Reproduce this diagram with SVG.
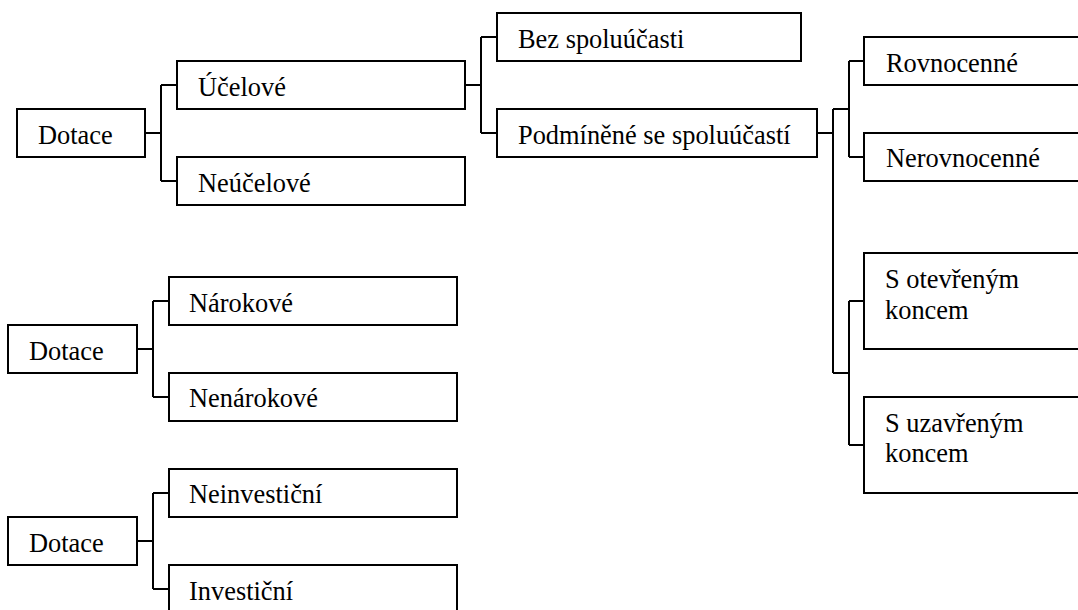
<svg xmlns="http://www.w3.org/2000/svg" width="1078" height="610" viewBox="0 0 1078 610">
<style>
.box{fill:#fff;stroke:#000;stroke-width:2}
.lbl{font-family:"Liberation Serif","Times New Roman",serif;font-size:26.4px;fill:#000}
.con{fill:none;stroke:#000;stroke-width:2}
</style>
<rect width="1078" height="610" fill="#fff"/>
<g id="connectors" class="con">
<path d="M145,133H161M161,85V181M161,85H177M161,181H177"/>
<path d="M465,85H481M481,37V133M481,37H497M481,133H497"/>
<path d="M817,133H833M833,109V373M833,109H849M849,61V157M849,61H864M849,157H864M833,373H849M849,301V445M849,301H864M849,445H864"/>
<path d="M137,349H153M153,301V397M153,301H169M153,397H169"/>
<path d="M137,541H153M153,493V589M153,493H169M153,589H169"/>
</g>
<g id="dotace1"><rect class="box" x="17" y="109" width="128" height="48"/><text class="lbl" x="38" y="144">Dotace</text></g>
<g id="ucelove"><rect class="box" x="177" y="61" width="288" height="48"/><text class="lbl" x="198" y="96">Účelové</text></g>
<g id="neucelove"><rect class="box" x="177" y="157" width="288" height="48"/><text class="lbl" x="198" y="192">Neúčelové</text></g>
<g id="bez"><rect class="box" x="497" y="13" width="304" height="48"/><text class="lbl" x="518" y="48">Bez spoluúčasti</text></g>
<g id="podminene"><rect class="box" x="497" y="109" width="320" height="48"/><text class="lbl" x="518" y="144">Podmíněné se spoluúčastí</text></g>
<g id="rovnocenne"><rect class="box" x="864" y="37" width="230" height="48"/><text class="lbl" x="886" y="72">Rovnocenné</text></g>
<g id="nerovnocenne"><rect class="box" x="864" y="133" width="230" height="48"/><text class="lbl" x="886" y="167">Nerovnocenné</text></g>
<g id="otevreny"><rect class="box" x="864" y="253" width="230" height="96"/><text class="lbl" x="885" y="288">S otevřeným</text><text class="lbl" x="885" y="319">koncem</text></g>
<g id="uzavreny"><rect class="box" x="864" y="397" width="230" height="96"/><text class="lbl" x="885" y="432">S uzavřeným</text><text class="lbl" x="885" y="462">koncem</text></g>
<g id="dotace2"><rect class="box" x="8" y="325" width="129" height="48"/><text class="lbl" x="29" y="360">Dotace</text></g>
<g id="narokove"><rect class="box" x="169" y="277" width="288" height="48"/><text class="lbl" x="189" y="312">Nárokové</text></g>
<g id="nenarokove"><rect class="box" x="169" y="373" width="288" height="48"/><text class="lbl" x="189" y="407">Nenárokové</text></g>
<g id="dotace3"><rect class="box" x="8" y="517" width="129" height="48"/><text class="lbl" x="29" y="552">Dotace</text></g>
<g id="neinvesticni"><rect class="box" x="169" y="469" width="288" height="48"/><text class="lbl" x="189" y="503">Neinvestiční</text></g>
<g id="investicni"><rect class="box" x="169" y="565" width="288" height="60"/><text class="lbl" x="189" y="600">Investiční</text></g>
</svg>
